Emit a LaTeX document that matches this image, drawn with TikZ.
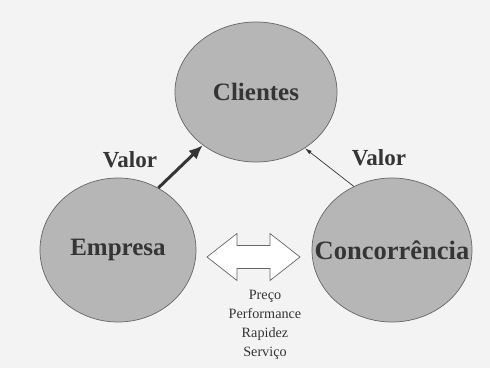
\documentclass[tikz,border=0pt]{standalone}
\usepackage{fontspec}
\setmainfont{Liberation Serif}
\usetikzlibrary{arrows.meta,shapes.geometric}
\definecolor{paper}{HTML}{F3F3F3}
\definecolor{disc}{HTML}{B6B6B6}
\definecolor{rim}{HTML}{666666}
\definecolor{ink}{HTML}{353535}
\begin{document}
\begin{tikzpicture}[x=1pt,y=1pt,
  actor/.style={ellipse,draw=rim,fill=disc,line width=0.7pt,inner sep=0pt,
    label={[text=ink,font=\fontsize{25}{28}\selectfont\bfseries]center:#1}},
  valuelabel/.style={text=ink,font=\fontsize{23}{26}\selectfont\bfseries},
  strongflow/.style={draw=ink,line width=3pt,-{Latex[length=14pt,width=12pt]}},
  weakflow/.style={draw=ink,line width=0.7pt,-{Latex[length=7pt,width=4pt]}},
  factors/.style={text=ink,align=center,
    font=\fontsize{14.2}{19}\selectfont}
]
\useasboundingbox[fill=paper] (0,0) rectangle (490,368);

% the three actors
\node[actor=Clientes,minimum width=162pt,minimum height=140pt] (cli) at (256,276) {};
\node[actor=Empresa,minimum width=156pt,minimum height=144pt] (emp) at (118,118) {};
\node[actor={\fontsize{26.5}{29}\selectfont Concorrência},minimum width=160pt,minimum height=144pt] (con) at (392,118) {};

% value delivered to the customers
\draw[strongflow] (emp.57) -- (cli.225);
\draw[weakflow] (con.121) -- (cli.311);
\node[valuelabel] (vemp) at (130,208) {Valor};
\node[valuelabel] (vcon) at (379,210) {Valor};

% competition between company and competitors
\draw[draw=rim,fill=white,line width=0.7pt]
  (207,111) -- (237,134.5) -- (237,122.5) -- (270,122.5) -- (270,134.5)
  -- (300,111) -- (270,87.5) -- (270,99.5) -- (237,99.5) -- (237,87.5) -- cycle;
\node[factors] (fac) at (265,43) {Preço\\Performance\\Rapidez\\Serviço};
\end{tikzpicture}
\end{document}
